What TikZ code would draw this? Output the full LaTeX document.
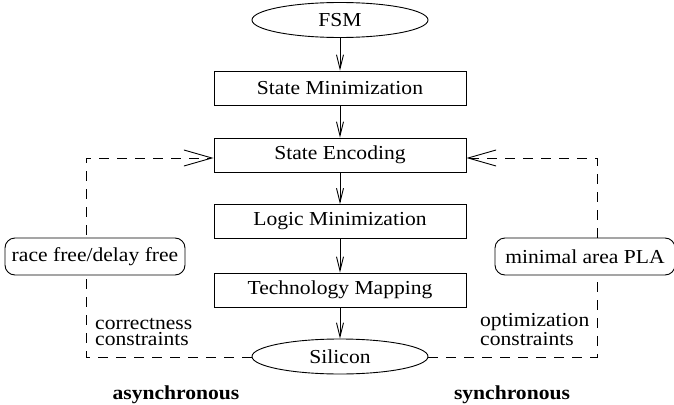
\documentclass[tikz,border=0pt]{standalone}
\usepackage{fontspec}
\setmainfont[FakeStretch=1.09]{Liberation Serif}
\usetikzlibrary{arrows.meta,shapes.geometric}
\begin{document}
\begin{tikzpicture}[x=1pt,y=-1pt,
  every node/.style={font=\fontsize{19.8}{16}\selectfont},
  stepbox/.style={draw,line width=0.9pt,fill=white,minimum width=252pt,minimum height=34pt,inner sep=0pt},
  oval/.style={ellipse,draw,line width=0.9pt,fill=white,minimum width=176pt,minimum height=35pt,inner sep=0pt},
  tag/.style={draw,line width=0.9pt,fill=white,rounded corners=10pt,minimum width=180pt,minimum height=37pt,inner sep=0pt},
  flow/.style={line width=0.9pt,-{Straight Barb[length=14pt,width=7pt,line width=0.9pt]}},
  fb/.style={line width=0.9pt,dash pattern=on 10pt off 8pt,-{Straight Barb[length=28pt,width=16pt,line width=0.9pt]}},
  lbl/.style={anchor=base west,inner sep=0pt,align=left},
  capt/.style={anchor=base,inner sep=0pt,font=\fontsize{19.8}{16}\selectfont\bfseries}]
\useasboundingbox (0,0) rectangle (674,404);
\coordinate (l1) at (86,357);
\coordinate (l2) at (86,158);
\coordinate (r1) at (597,357);
\coordinate (r2) at (597,158);
\node[oval] (fsm) at (340,20) {FSM};
\node[stepbox] (smin) at (340,88) {State Minimization};
\node[stepbox] (senc) at (340,155) {State Encoding};
\node[stepbox] (lmin) at (340,221.5) {Logic Minimization};
\node[stepbox] (tmap) at (340,290) {Technology Mapping};
\node[oval] (si) at (340,356.5) {Silicon};
\draw[fb] (si.west |- l1) -- (l1) -- (l2) -- (senc.west |- l2);
\draw[fb] (si.east |- r1) -- (r1) -- (r2) -- (senc.east |- r2);
\node[tag] (race) at (95,256.5) {race free/delay free};
\node[tag] (pla) at (585,256.5) {minimal area PLA};
\draw[flow] (fsm) -- (smin);
\draw[flow] (smin) -- (senc);
\draw[flow] (senc) -- (lmin);
\draw[flow] (lmin) -- (tmap);
\draw[flow] (tmap) -- (si);
\node[lbl] (cc) at (95,345) {correctness\\constraints};
\node[lbl] (oc) at (480,345) {optimization\\constraints};
\node[capt] (asy) at (176,399) {asynchronous};
\node[capt] (syn) at (512,399) {synchronous};
\end{tikzpicture}
\end{document}
